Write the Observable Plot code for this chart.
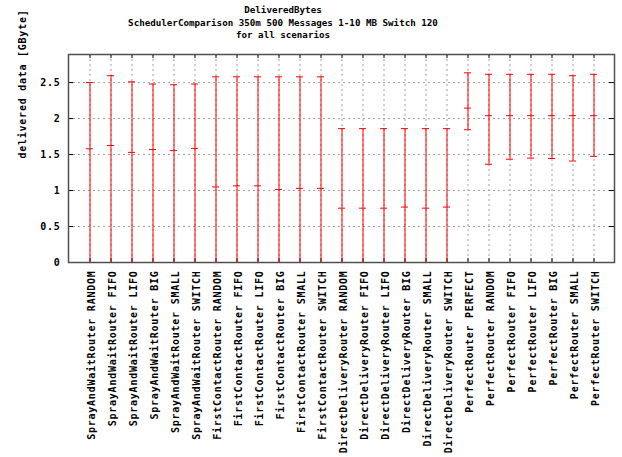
<!DOCTYPE html>
<html>
<head>
<meta charset="utf-8">
<script src="https://cdn.jsdelivr.net/npm/d3@7"></script>
<script src="https://cdn.jsdelivr.net/npm/@observablehq/plot@0.6"></script>
<style>
  body { margin: 0; background: #fff; }
  #wrap { position: relative; width: 622px; height: 457px; }
  #title { position: absolute; left: 0; top: 4px; width: 566px; text-align: center;
    font-family: "DejaVu Sans Mono", monospace; font-weight: bold; font-size: 9.2px; line-height: 12.5px; color: #000; }
  #chart { position: absolute; left: 0; top: 0; }
</style>
</head>
<body>
<div id="wrap">
  <div id="chart"></div>
  <div id="title">DeliveredBytes<br>SchedulerComparison 350m 500 Messages 1-10 MB Switch 120<br>for all scenarios</div>
</div>
<script>
const categories = [
  "SprayAndWaitRouter RANDOM", "SprayAndWaitRouter FIFO", "SprayAndWaitRouter LIFO",
  "SprayAndWaitRouter BIG", "SprayAndWaitRouter SMALL", "SprayAndWaitRouter SWITCH",
  "FirstContactRouter RANDOM", "FirstContactRouter FIFO", "FirstContactRouter LIFO",
  "FirstContactRouter BIG", "FirstContactRouter SMALL", "FirstContactRouter SWITCH",
  "DirectDeliveryRouter RANDOM", "DirectDeliveryRouter FIFO", "DirectDeliveryRouter LIFO",
  "DirectDeliveryRouter BIG", "DirectDeliveryRouter SMALL", "DirectDeliveryRouter SWITCH",
  "PerfectRouter PERFECT", "PerfectRouter RANDOM", "PerfectRouter FIFO", "PerfectRouter LIFO",
  "PerfectRouter BIG", "PerfectRouter SMALL", "PerfectRouter SWITCH"
];
const means = [1.58, 1.625, 1.53, 1.57, 1.555, 1.585,
  1.05, 1.065, 1.065, 1.015, 1.03, 1.03,
  0.755, 0.755, 0.755, 0.77, 0.755, 0.77,
  2.145, 2.04, 2.04, 2.04, 2.04, 2.04, 2.04];
const highs = [2.5, 2.595, 2.51, 2.48, 2.47, 2.48,
  2.58, 2.58, 2.58, 2.58, 2.58, 2.58,
  1.86, 1.86, 1.86, 1.86, 1.86, 1.86,
  2.635, 2.615, 2.615, 2.615, 2.615, 2.595, 2.615];
const lows = [0, 0, 0, 0, 0, 0,
  0, 0, 0, 0, 0, 0,
  0, 0, 0, 0, 0, 0,
  1.845, 1.365, 1.435, 1.45, 1.445, 1.41, 1.475];
const yTicks = [0, 0.5, 1, 1.5, 2, 2.5];
const yLabel = "delivered data [GByte]";

const data = categories.map((c, i) => ({cat: c, mean: means[i], high: highs[i], low: lows[i]}));
const gridY = yTicks.filter(d => d > 0);
const RED = "#ff0000";
const GRID = "#a0a0a0";
const fontStyle = "font-family: 'DejaVu Sans Mono', monospace; font-weight: bold; font-size: 10px; letter-spacing: 0.75px; background: transparent; overflow: visible;";

const plot = Plot.plot({
  width: 622,
  height: 457,
  marginLeft: 68,
  marginRight: 8,
  marginTop: 54,
  marginBottom: 195,
  style: fontStyle,
  x: {type: "band", domain: categories, paddingInner: 0.67, paddingOuter: 0.835},
  y: {domain: [0, 2.89]},
  marks: [
    // grid
    Plot.ruleY(gridY, {y: d => d, stroke: GRID, strokeDasharray: "2,3", strokeWidth: 1}),
    Plot.ruleX(categories, {x: d => d, stroke: GRID, strokeDasharray: "2,3", strokeWidth: 1}),
    // inward ticks (mirrored gnuplot style)
    Plot.tickY(yTicks, {y: d => d, stroke: "#000", insetRight: 541}),
    Plot.tickY(yTicks, {y: d => d, stroke: "#000", insetLeft: 541}),
    Plot.tickX(categories, {x: d => d, stroke: "#000", insetBottom: 204}),
    Plot.tickX(categories, {x: d => d, stroke: "#000", insetTop: 204}),
    // error bars
    Plot.ruleX(data, {x: "cat", y1: "low", y2: "high", stroke: RED, strokeWidth: 1}),
    Plot.tickY(data, {x: "cat", y: "high", stroke: RED}),
    Plot.tickY(data.filter(d => d.low > 0), {x: "cat", y: "low", stroke: RED}),
    Plot.tickY(data, {x: "cat", y: "mean", stroke: RED}),
    // axes
    Plot.axisX({tickRotate: -90, tickSize: 0, tickPadding: 8, dx: 2, label: null, fill: "#000"}),
    Plot.axisY({ticks: yTicks, tickSize: 0, tickPadding: 8, tickFormat: d => String(d), label: null}),
    Plot.text([yLabel], {text: d => d, frameAnchor: "left", rotate: -90, dx: -46, fill: "#000"}),
    Plot.frame({stroke: "#505050", strokeWidth: 1.5})
  ]
});
document.getElementById("chart").appendChild(plot);
</script>
</body>
</html>
